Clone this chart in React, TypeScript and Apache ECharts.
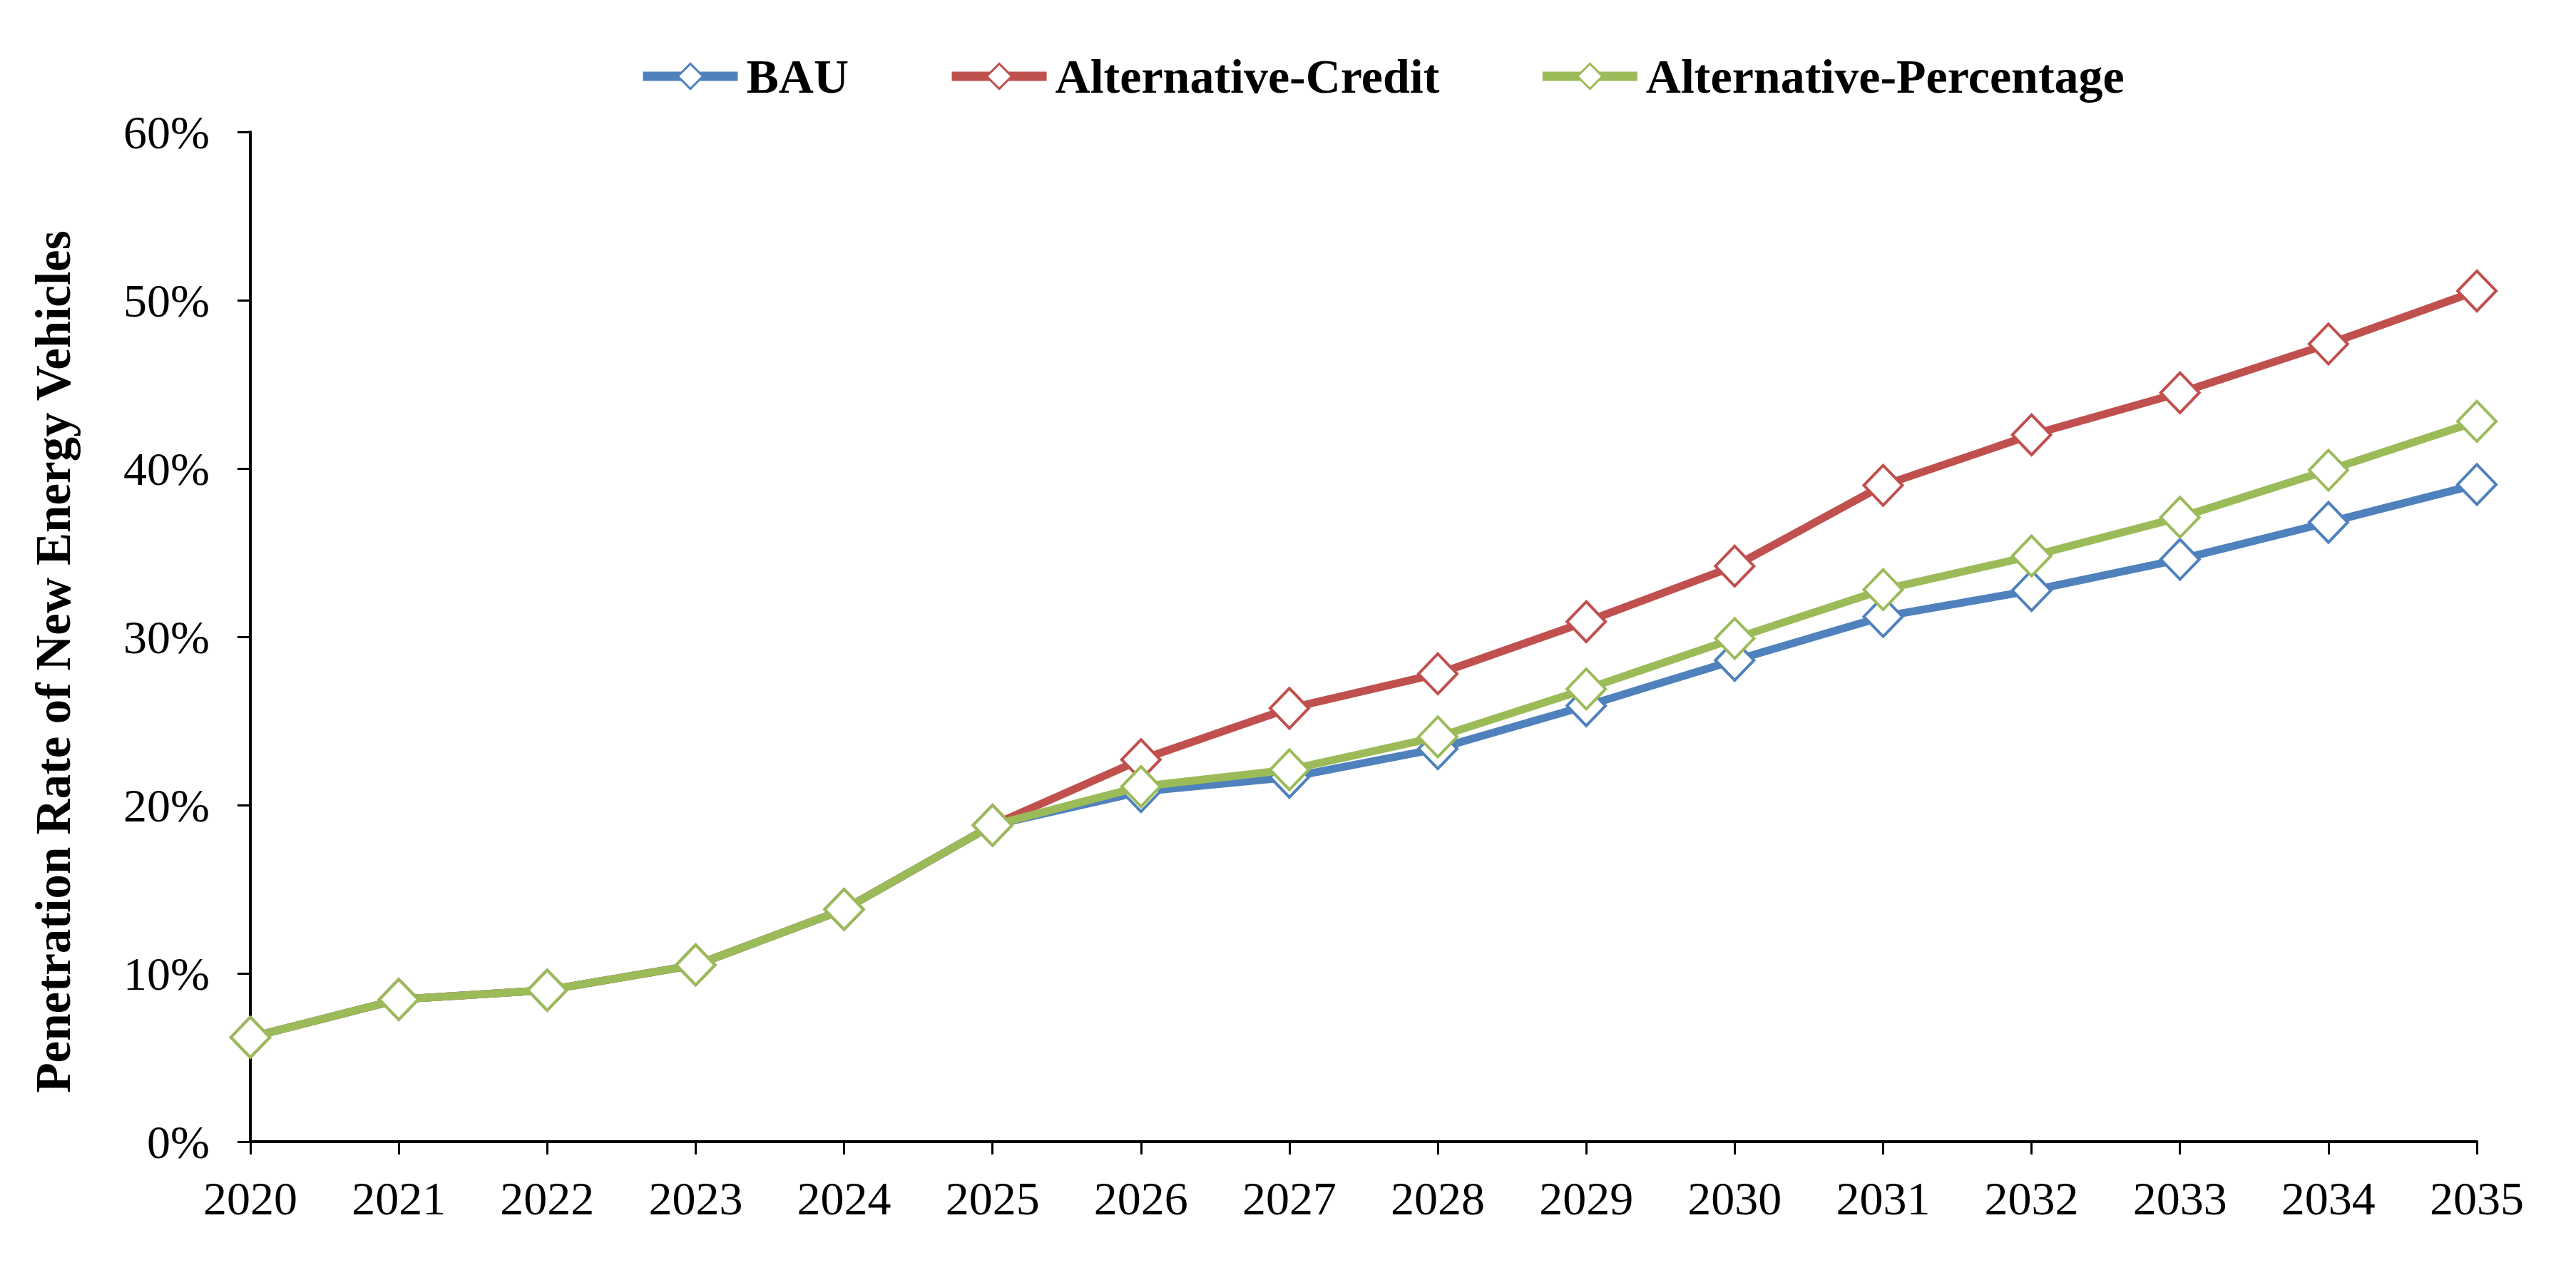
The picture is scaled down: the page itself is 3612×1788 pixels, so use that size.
import React, { useEffect, useRef } from "react";
import * as echarts from "echarts";

const years = ["2020", "2021", "2022", "2023", "2024", "2025", "2026", "2027", "2028", "2029", "2030", "2031", "2032", "2033", "2034", "2035"];
const bau = [6.2, 8.45, 9.0, 10.5, 13.8, 18.8, 20.8, 21.65, 23.35, 25.9, 28.6, 31.2, 32.75, 34.6, 36.8, 39.05];
const altCredit = [6.2, 8.45, 9.0, 10.5, 13.8, 18.8, 22.7, 25.75, 27.8, 30.9, 34.2, 39.0, 42.0, 44.5, 47.4, 50.55];
const altPercentage = [6.2, 8.45, 9.0, 10.5, 13.8, 18.8, 21.1, 22.1, 24.05, 26.9, 29.9, 32.8, 34.8, 37.1, 39.9, 42.8];
const seriesNames = ["BAU", "Alternative-Credit", "Alternative-Percentage"];
const seriesColors = ["#4F81BD", "#C0504D", "#9BBB59"];

const FONT = "'Liberation Serif', 'Times New Roman', serif";

export default function App() {
  const ref = useRef<HTMLDivElement>(null);
  useEffect(() => {
    if (!ref.current) return;
    const chart = echarts.init(ref.current, null, { renderer: "svg" });
    const datas = [bau, altCredit, altPercentage];
    chart.setOption({
      animation: false,
      backgroundColor: "#ffffff",
      textStyle: { fontFamily: FONT },
      legend: {
        left: 882,
        top: 60,
        itemWidth: 133,
        itemHeight: 44,
        itemGap: 138,
        data: seriesNames,
        lineStyle: { width: 13 },
        itemStyle: { borderWidth: 3 },
        textStyle: {
          fontFamily: FONT,
          fontSize: 68,
          fontWeight: "bold",
          color: "#000",
          padding: [0, 0, 0, 7],
        },
      },
      grid: { left: 343, right: 131, top: 177, bottom: 179, containLabel: false },
      xAxis: {
        type: "category",
        data: years,
        boundaryGap: false,
        axisLine: { show: true, lineStyle: { color: "#000", width: 4 } },
        axisTick: { show: true, length: 18, lineStyle: { color: "#000", width: 3 } },
        axisLabel: { fontFamily: FONT, fontSize: 66, color: "#000", margin: 46 },
        splitLine: { show: false },
      },
      yAxis: {
        type: "value",
        min: 0,
        max: 60,
        interval: 10,
        name: "Penetration Rate of New Energy Vehicles",
        nameLocation: "middle",
        nameRotate: 90,
        nameGap: 242,
        nameTextStyle: {
          fontFamily: FONT,
          fontSize: 69,
          fontWeight: "bold",
          color: "#000",
          padding: [0, 70, 0, 0],
        },
        axisLine: { show: true, lineStyle: { color: "#000", width: 4 } },
        axisTick: { show: true, length: 18, lineStyle: { color: "#000", width: 3 } },
        axisLabel: { fontFamily: FONT, fontSize: 66, color: "#000", margin: 57, formatter: "{value}%" },
        splitLine: { show: false },
      },
      series: seriesNames.map((name, i) => ({
        name,
        type: "line",
        data: datas[i],
        symbol: "diamond",
        symbolSize: [54, 56],
        showAllSymbol: true,
        lineStyle: { color: seriesColors[i], width: 11 },
        itemStyle: { color: "#ffffff", borderColor: seriesColors[i], borderWidth: 4 },
        z: 2 + i,
      })),
    });
    return () => chart.dispose();
  }, []);
  return <div ref={ref} style={{ width: 3596, height: 1772 }} />;
}
